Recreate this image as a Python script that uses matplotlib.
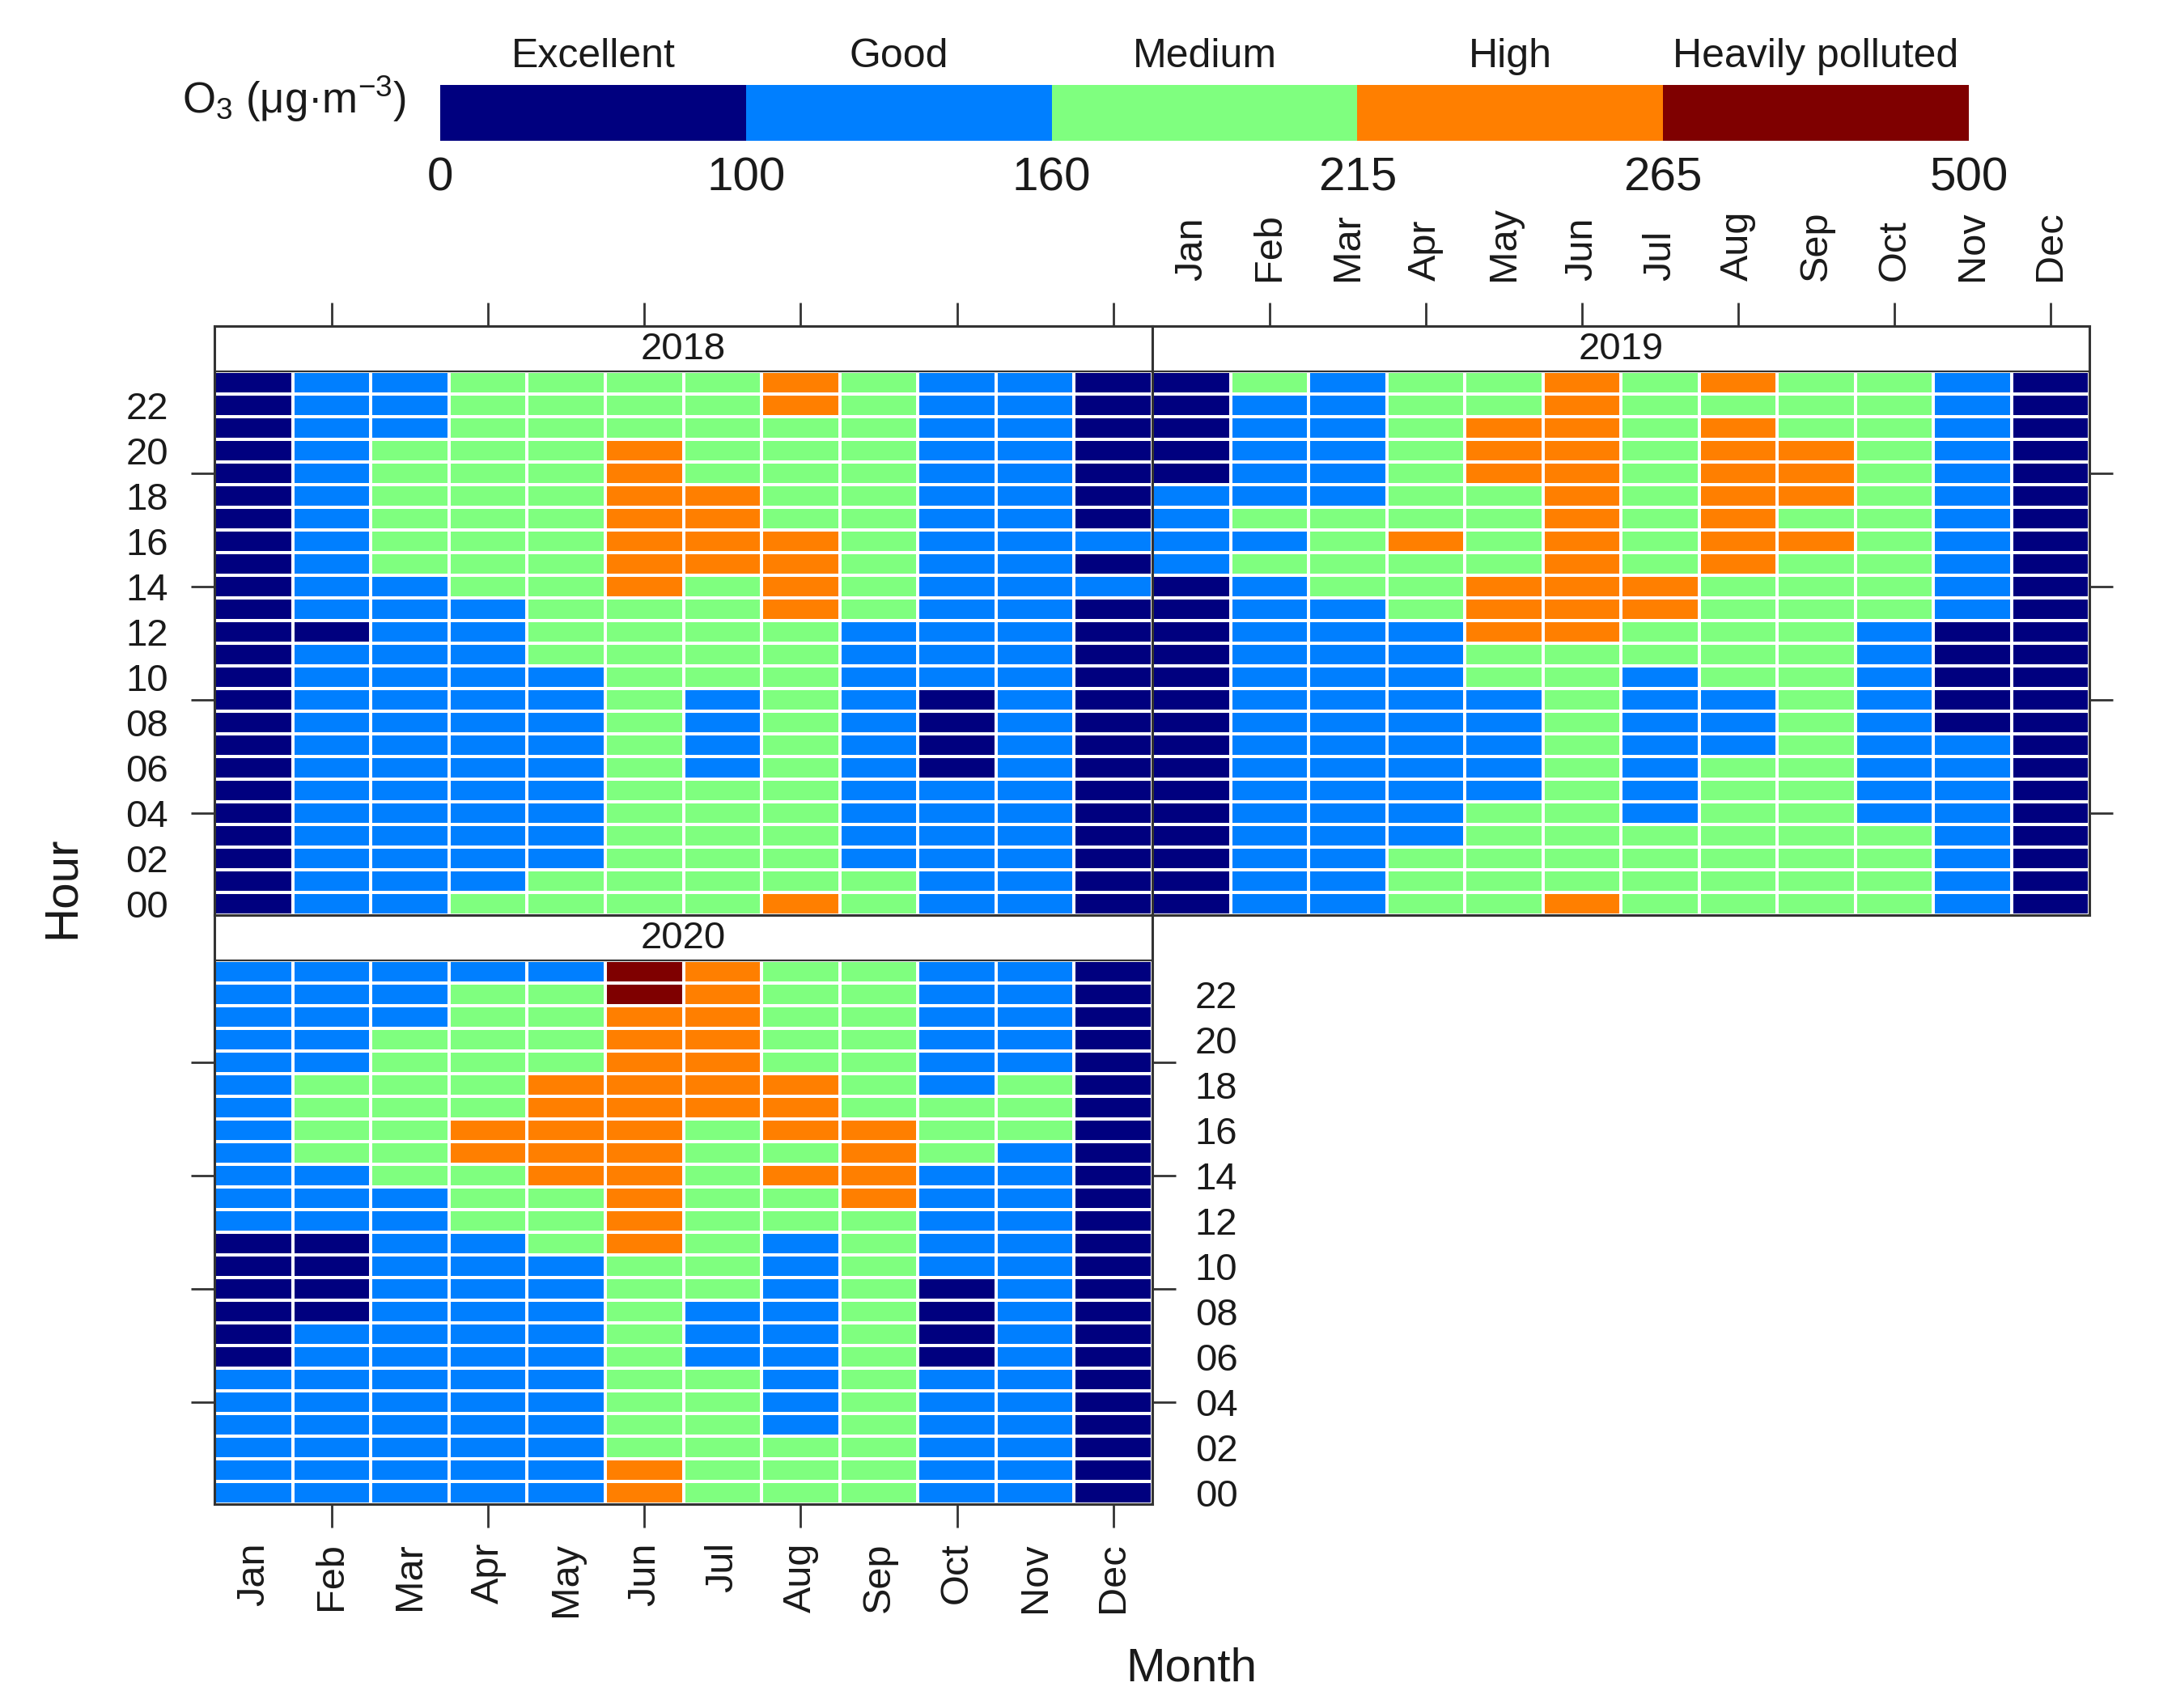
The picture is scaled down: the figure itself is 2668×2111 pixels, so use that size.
import matplotlib
matplotlib.use('Agg')
import matplotlib.pyplot as plt
import numpy as np
from matplotlib.colors import ListedColormap, BoundaryNorm
from matplotlib import font_manager as fm

names = {f.name for f in fm.fontManager.ttflist}
NARROW = 'Liberation Sans Narrow' if 'Liberation Sans Narrow' in names else 'Liberation Sans'

plt.rcParams['font.family'] = ['Liberation Sans', 'DejaVu Sans']
plt.rcParams['mathtext.fontset'] = 'custom'
plt.rcParams['mathtext.rm'] = 'Liberation Sans'
plt.rcParams['mathtext.it'] = 'Liberation Sans:italic'

# ---------------- data ----------------
months = ["Jan", "Feb", "Mar", "Apr", "May", "Jun",
          "Jul", "Aug", "Sep", "Oct", "Nov", "Dec"]
hour_labels = ["00", "02", "04", "06", "08", "10", "12", "14", "16", "18", "20", "22"]
level_codes = "EGMHP"
level_names = ["Excellent", "Good", "Medium", "High", "Heavily polluted"]
level_bounds = [0, 100, 160, 215, 265, 500]
level_colors = ["#00007F", "#007FFF", "#7FFF7F", "#FF7F00", "#7F0000"]
years = ["2018", "2019", "2020"]

# each string: O3 level for hours 00..23 (grouped 00-05, 06-11, 12-17, 18-23)
o3_2018 = [
    "EEEEEE" "EEEEEE" "EEEEEE" "EEEEEE",  # Jan
    "GGGGGG" "GGGGGG" "EGGGGG" "GGGGGG",  # Feb
    "GGGGGG" "GGGGGG" "GGGMMM" "MMMGGG",  # Mar
    "MGGGGG" "GGGGGG" "GGMMMM" "MMMMMM",  # Apr
    "MMGGGG" "GGGGGM" "MMMMMM" "MMMMMM",  # May
    "MMMMMM" "MMMMMM" "MMHHHH" "HHHMMM",  # Jun
    "MMMMMM" "GGGGMM" "MMMHHH" "HMMMMM",  # Jul
    "HMMMMM" "MMMMMM" "MHHHHM" "MMMMHH",  # Aug
    "MMGGGG" "GGGGGG" "GMMMMM" "MMMMMM",  # Sep
    "GGGGGG" "EEEEGG" "GGGGGG" "GGGGGG",  # Oct
    "GGGGGG" "GGGGGG" "GGGGGG" "GGGGGG",  # Nov
    "EEEEEE" "EEEEEE" "EEGEGE" "EEEEEE",  # Dec
]
o3_2019 = [
    "EEEEEE" "EEEEEE" "EEEGGG" "GEEEEE",  # Jan
    "GGGGGG" "GGGGGG" "GGGMGM" "GGGGGM",  # Feb
    "GGGGGG" "GGGGGG" "GGMMMM" "GGGGGG",  # Mar
    "MMMGGG" "GGGGGG" "GMMMHM" "MMMMMM",  # Apr
    "MMMMMG" "GGGGMM" "HHHMMM" "MHHHMM",  # May
    "HMMMMM" "MMMMMM" "HHHHHH" "HHHHHH",  # Jun
    "MMMMGG" "GGGGGM" "MHHMMM" "MMMMMM",  # Jul
    "MMMMMM" "MGGGMM" "MMMHHH" "HHHHMH",  # Aug
    "MMMMMM" "MMMMMM" "MMMMHM" "HHHMMM",  # Sep
    "MMMMGG" "GGGGGG" "GMMMMM" "MMMMMM",  # Oct
    "GGGGGG" "GGEEEE" "EGGGGG" "GGGGGG",  # Nov
    "EEEEEE" "EEEEEE" "EEEEEE" "EEEEEE",  # Dec
]
o3_2020 = [
    "GGGGGG" "EEEEEE" "GGGGGG" "GGGGGG",  # Jan
    "GGGGGG" "GGEEEE" "GGGMMM" "MGGGGG",  # Feb
    "GGGGGG" "GGGGGG" "GGMMMM" "MMMGGG",  # Mar
    "GGGGGG" "GGGGGG" "MMMHHM" "MMMMMG",  # Apr
    "GGGGGG" "GGGGGM" "MMHHHH" "HMMMMG",  # May
    "HHMMMM" "MMMMMH" "HHHHHH" "HHHHPP",  # Jun
    "MMMMMM" "GGGMMM" "MMMMMH" "HHHHHH",  # Jul
    "MMMGGG" "GGGGGG" "MMHMHH" "HMMMMM",  # Aug
    "MMMMMM" "MMMMMM" "MHHHHM" "MMMMMM",  # Sep
    "GGGGGG" "EEEEGG" "GGGMMM" "GGGGGG",  # Oct
    "GGGGGG" "GGGGGG" "GGGGMM" "MGGGGG",  # Nov
    "EEEEEE" "EEEEEE" "EEEEEE" "EEEEEE",  # Dec
]
o3_data = {"2018": o3_2018, "2019": o3_2019, "2020": o3_2020}

for y in years:
    assert len(o3_data[y]) == 12
    for s in o3_data[y]:
        assert len(s) == 24, (y, s)

# ---------------- figure ----------------
W, H = 2668, 2111
fig = plt.figure(figsize=(W / 100, H / 100), dpi=100)

def rect(x0, y0, x1, y1):
    return [x0 / W, 1 - y1 / H, (x1 - x0) / W, (y1 - y0) / H]

cmap = ListedColormap(level_colors)
norm = BoundaryNorm(np.arange(-0.5, 5.5, 1), cmap.N)
TXT = "#1a1a1a"
EDGE = "#333333"

panel_rects = {
    "2018": rect(265, 403, 1424, 1131),
    "2019": rect(1424, 403, 2582, 1131),
    "2020": rect(265, 1131, 1424, 1859),
}

xe = np.arange(-0.5, 12.5, 1)
ye = np.arange(-0.5, 24.5, 1)

for yr in years:
    ax = fig.add_axes(panel_rects[yr])
    ax.xaxis.remove_overlapping_locs = False
    ax.yaxis.remove_overlapping_locs = False
    grid = np.array([[level_codes.index(c) for c in s] for s in o3_data[yr]]).T
    ax.pcolormesh(xe, ye, grid, cmap=cmap, norm=norm,
                  edgecolors="white", linewidth=2.8)
    ax.set_xlim(-0.5, 11.5)
    ax.set_ylim(-0.5, 25.5)
    ax.axhline(23.5, color=EDGE, lw=1.6, zorder=3)
    ax.text(5.5, 24.45, yr, ha="center", va="center", fontsize=34,
            color=TXT, family=[NARROW, 'DejaVu Sans'])
    for sp in ax.spines.values():
        sp.set_color(EDGE)
        sp.set_linewidth(2.2)

    ax.set_xticks(range(12))
    ax.set_xticklabels(months, rotation=90, fontsize=35, color=TXT)
    ax.set_xticks([1, 3, 5, 7, 9, 11], minor=True)
    ax.set_yticks(range(0, 24, 2))
    ax.set_yticklabels(hour_labels, fontsize=34, color=TXT,
                       family=[NARROW, 'DejaVu Sans'])
    ax.set_yticks([4, 9, 14, 19], minor=True)
    ax.tick_params(which="major", length=0)
    ax.tick_params(which="minor", length=21, width=2.0, color=EDGE,
                   direction="out")

    if yr == "2018":
        ax.tick_params(axis="x", which="both", top=True, bottom=False,
                       labeltop=False, labelbottom=False)
        ax.tick_params(axis="y", which="both", left=True, right=False,
                       labelleft=True, labelright=False)
        ax.tick_params(axis="y", which="major", pad=41)
    elif yr == "2019":
        ax.tick_params(axis="x", which="both", top=True, bottom=False,
                       labeltop=True, labelbottom=False)
        ax.tick_params(axis="x", which="major", pad=40)
        ax.tick_params(axis="y", which="both", left=False, right=True,
                       labelleft=False, labelright=False)
    else:
        ax.tick_params(axis="x", which="both", top=False, bottom=True,
                       labeltop=False, labelbottom=True)
        ax.tick_params(axis="x", which="major", pad=34)
        ax.tick_params(axis="y", which="both", left=True, right=True,
                       labelleft=False, labelright=True)
        ax.tick_params(axis="y", which="major", pad=38)

# ---------------- colour key ----------------
cax = fig.add_axes(rect(544, 105, 2433, 174))
cax.pcolormesh(np.arange(6), [0, 1], np.arange(5).reshape(1, 5),
               cmap=cmap, norm=norm)
cax.set_xlim(0, 5)
cax.set_ylim(0, 1)
for sp in cax.spines.values():
    sp.set_visible(False)
cax.set_yticks([])
cax.set_xticks(range(6))
cax.set_xticklabels([str(b) for b in level_bounds], fontsize=42, color=TXT,
                    family=[NARROW, 'DejaVu Sans'])
cax.tick_params(axis="x", length=0, pad=14)
for i, nm in enumerate(level_names):
    cax.text(i + 0.5, 1.17, nm, ha="center", va="bottom", fontsize=36,
             color=TXT, family=[NARROW, 'DejaVu Sans'])

fig.text(502 / W, 1 - 122 / H, r"O$_3$ (μg·m$^{-3}$)", ha="right", va="center",
         fontsize=38, color=TXT)

fig.text(77 / W, 1 - 1097 / H, "Hour", rotation=90, ha="center", va="center",
         fontsize=42, color=TXT)
fig.text(1472 / W, 1 - 2062 / H, "Month", ha="center", va="center",
         fontsize=42, color=TXT)

fig.savefig("out.png", dpi=100, facecolor="white")
